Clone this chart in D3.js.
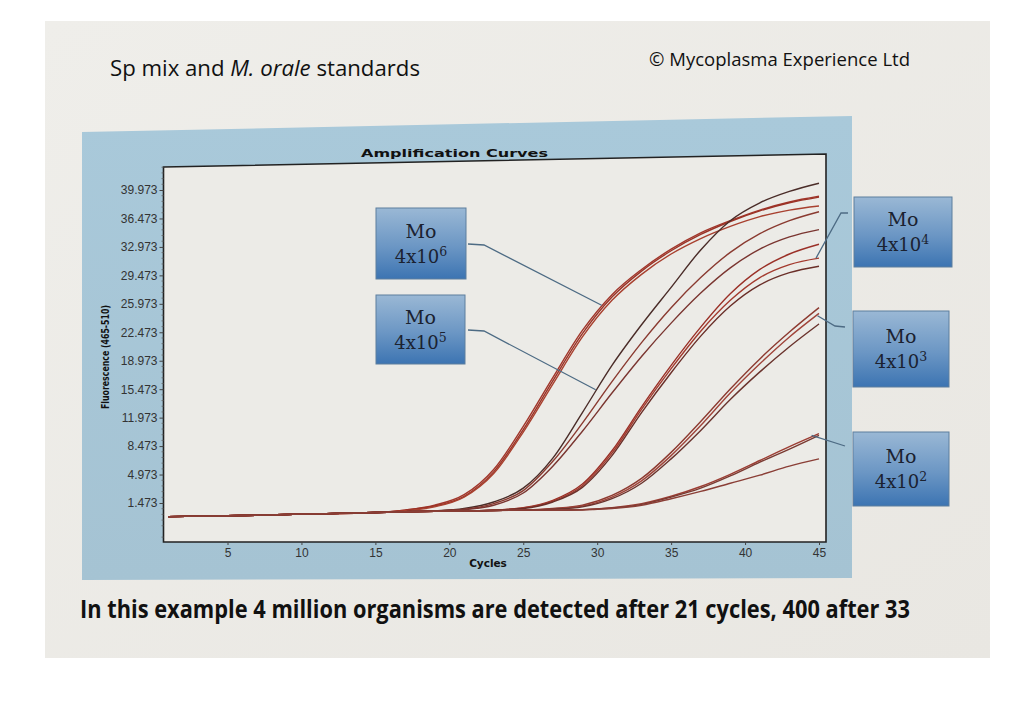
<!DOCTYPE html>
<html><head><meta charset="utf-8">
<script src="https://d3js.org/d3.v7.min.js"></script>
<style>html,body{margin:0;padding:0;background:#fff;}svg{display:block;}</style>
</head><body>
<svg id="chart" width="1024" height="709"></svg>
<script>
// ---- data ----
const cycles = [1,5,10,15,17,19,21,23,25,27,29,31,33,35,37,39,41,43,45];
const yTickLabels = [1.473,4.973,8.473,11.973,15.473,18.973,22.473,25.973,29.473,32.973,36.473,39.973];
const xTickLabels = [5,10,15,20,25,30,35,40,45];
// Mo 4x10^6
const a1 = [-0.2,-0.1,0.1,0.3,0.6,1.2,2.5,5.6,10.9,16.9,22.7,27.1,30.2,32.7,34.7,36.2,37.5,38.5,39.2];
const a2 = [-0.2,-0.1,0.1,0.3,0.6,1.1,2.3,5.3,10.5,16.5,22.3,26.8,30.0,32.5,34.5,36.1,37.4,38.4,39.1];
const a3 = [-0.2,-0.1,0.1,0.3,0.5,1.0,2.2,5.1,10.2,16.1,21.9,26.4,29.6,32.1,34.0,35.5,36.7,37.5,38.0];
// Mo 4x10^5
const b1 = [-0.2,-0.1,0.1,0.3,0.4,0.5,0.8,1.6,3.3,7.0,12.6,18.4,23.4,28.0,32.6,36.2,38.4,39.8,40.8];
const b2 = [-0.2,-0.1,0.1,0.3,0.4,0.5,0.7,1.4,3.0,6.6,11.3,16.4,21.2,25.5,29.2,32.3,34.6,36.2,37.3];
const b3 = [-0.2,-0.1,0.1,0.3,0.4,0.5,0.65,1.2,2.7,6.0,10.3,15.0,19.5,23.6,27.3,30.4,32.7,34.2,35.1];
// Mo 4x10^4
const c1 = [-0.2,-0.1,0.1,0.3,0.4,0.45,0.5,0.6,0.9,1.8,3.8,7.9,13.3,18.4,23.1,27.2,30.2,32.1,33.3];
const c2 = [-0.2,-0.1,0.1,0.3,0.4,0.45,0.5,0.6,0.85,1.7,3.6,7.6,13.0,18.0,22.6,26.4,29.2,30.8,31.6];
const c3 = [-0.2,-0.1,0.1,0.3,0.4,0.45,0.5,0.6,0.8,1.6,3.4,7.3,12.6,17.5,22.0,25.7,28.3,29.8,30.6];
// Mo 4x10^3
const d1 = [-0.2,-0.1,0.1,0.3,0.4,0.45,0.5,0.55,0.6,0.8,1.2,2.4,4.5,7.7,11.5,15.5,19.2,22.5,25.5];
const d2 = [-0.2,-0.1,0.1,0.3,0.4,0.45,0.5,0.55,0.6,0.75,1.1,2.2,4.2,7.3,11.0,15.0,18.6,21.9,24.8];
const d3s = [-0.2,-0.1,0.1,0.3,0.4,0.45,0.5,0.55,0.6,0.7,1.0,2.0,3.9,6.9,10.4,14.2,17.6,20.7,23.5];
// Mo 4x10^2
const e1 = [-0.2,-0.1,0.1,0.3,0.4,0.45,0.5,0.55,0.6,0.6,0.65,0.9,1.4,2.3,3.5,5.0,6.7,8.4,10.0];
const e2 = [-0.2,-0.1,0.1,0.3,0.4,0.45,0.5,0.55,0.6,0.6,0.65,0.85,1.3,2.2,3.3,4.8,6.5,8.1,9.8];
const e3 = [-0.2,-0.1,0.1,0.3,0.4,0.45,0.5,0.55,0.6,0.6,0.65,0.8,1.2,2.0,2.9,3.9,4.9,6.0,6.9];
const seriesList = [a1,a2,a3,b1,b2,b3,c1,c2,c3,d1,d2,d3s,e1,e2,e3];
const seriesColors = ["#a1362b","#9b3226","#a8402f","#4a2c28","#8a3a30","#7a3530","#9a3027","#a33a2e","#6a2e28","#8d3a30","#a0443a","#6a332d","#9c3d33","#7a3a32","#8a3e36"];
const boxExps = ["6","5","4","3","2"];
const boxCyc = [30.3, 29.9, 44.8, 44.9, 44.5];  // where each leader meets a curve
const boxVal = [25.8, 15.4, 31.6, 24.5, 9.8];

// ---- drawing ----
const svg = d3.select("#chart");
const defs = svg.append("defs");
const pg = defs.append("linearGradient").attr("id","page").attr("x1",0).attr("y1",0).attr("x2",1).attr("y2",1);
pg.append("stop").attr("offset",0).attr("stop-color","#efeeea");
pg.append("stop").attr("offset",1).attr("stop-color","#e9e7e2");
const bp = defs.append("linearGradient").attr("id","panel").attr("x1",0).attr("y1",0).attr("x2",0).attr("y2",1);
bp.append("stop").attr("offset",0).attr("stop-color","#a9c9da");
bp.append("stop").attr("offset",1).attr("stop-color","#a5c3d3");
const bx = defs.append("linearGradient").attr("id","box").attr("x1",0).attr("y1",0).attr("x2",0).attr("y2",1);
bx.append("stop").attr("offset",0).attr("stop-color","#9ab8d5");
bx.append("stop").attr("offset",0.55).attr("stop-color","#6b96c4");
bx.append("stop").attr("offset",1).attr("stop-color","#3c74b2");

// page
svg.append("rect").attr("x",45).attr("y",21).attr("width",945).attr("height",637).attr("fill","url(#page)");

// texts on page
const t1 = svg.append("text").attr("x",110).attr("y",76).attr("font-family","Open Sans, sans-serif")
  .attr("font-size",22).attr("fill","#111").attr("textLength",310).attr("lengthAdjust","spacingAndGlyphs");
t1.append("tspan").text("Sp mix and ");
t1.append("tspan").attr("font-style","italic").text("M. orale");
t1.append("tspan").text(" standards");
svg.append("text").attr("x",649).attr("y",66).attr("font-family","Open Sans, sans-serif").attr("font-size",18.5)
  .attr("fill","#111").attr("textLength",261).attr("lengthAdjust","spacingAndGlyphs").text("© Mycoplasma Experience  Ltd");
svg.append("text").attr("x",80).attr("y",618).attr("font-family","Open Sans, sans-serif").attr("font-weight","bold")
  .attr("font-size",24.5).attr("fill","#111").attr("textLength",830).attr("lengthAdjust","spacingAndGlyphs")
  .text("In this example 4 million organisms are detected after 21 cycles, 400 after 33");

// blue panel (slightly tilted in the photo)
svg.append("polygon").attr("points","82,132 852,116 852,578 82,580").attr("fill","url(#panel)");

// scales
const x = d3.scaleLinear().domain([5,45]).range([227.5,819]);
const y = d3.scaleLinear().domain([1.473,39.973]).range([503,190]);
const L = 163.5, R = 826, B = 542;

// plot area
svg.append("polygon").attr("points",`${L},167 ${R},154 ${R},${B} ${L},${B}`).attr("fill","#ecebe7")
  .attr("stroke","#222").attr("stroke-width",1.6);

svg.append("text").attr("x",361).attr("y",157).attr("font-family","DejaVu Sans, sans-serif").attr("font-weight","bold")
  .attr("font-size",10).attr("fill","#111").attr("textLength",187).attr("lengthAdjust","spacingAndGlyphs")
  .text("Amplification Curves");

// y axis
const yAxis = d3.axisLeft(y).tickValues(yTickLabels).tickFormat(d3.format(".3f")).tickSize(4).tickPadding(2);
const gy = svg.append("g").attr("transform",`translate(${L},0)`).call(yAxis);
gy.select(".domain").remove();
gy.selectAll("text").attr("font-family","Liberation Sans, Arial, sans-serif").attr("font-size",12).attr("fill","#333");
gy.selectAll("line").attr("stroke","#444");
const minor = d3.range(-2.727, 43, 0.7).filter(v => Math.abs(((v-1.473)/3.5) - Math.round((v-1.473)/3.5)) > 0.05);
svg.append("g").selectAll("line").data(minor).join("line")
  .attr("x1",L-2).attr("x2",L).attr("y1",d=>y(d)).attr("y2",d=>y(d)).attr("stroke","#666").attr("stroke-width",0.8);

// x axis
const xAxis = d3.axisBottom(x).tickValues(xTickLabels).tickSize(3).tickPadding(3);
const gx = svg.append("g").attr("transform",`translate(0,${B})`).call(xAxis);
gx.select(".domain").remove();
gx.selectAll("text").attr("font-family","Liberation Sans, Arial, sans-serif").attr("font-size",12).attr("fill","#333");
gx.selectAll("line").attr("stroke","#444");

svg.append("text").attr("x",488).attr("y",567).attr("text-anchor","middle").attr("font-family","DejaVu Sans, sans-serif")
  .attr("font-weight","bold").attr("font-size",10.5).attr("fill","#111").text("Cycles");
svg.append("text").attr("transform","translate(109,357) rotate(-90)").attr("text-anchor","middle")
  .attr("font-family","DejaVu Sans, sans-serif").attr("font-weight","bold").attr("font-size",11).attr("fill","#111")
  .attr("textLength",104).attr("lengthAdjust","spacingAndGlyphs").text("Fluorescence (465-510)");

// curves
const line = d3.line().x((d,i)=>x(cycles[i])).y(d=>y(d)).curve(d3.curveMonotoneX);
svg.append("g").selectAll("path").data(seriesList).join("path")
  .attr("d",d=>line(d)).attr("fill","none").attr("stroke",(d,i)=>seriesColors[i]).attr("stroke-width",1.4);

// label boxes + leaders
const boxes = [
  {x:376,y:208,w:90,h:71},
  {x:376,y:295,w:89,h:69},
  {x:854,y:197,w:98,h:70},
  {x:853,y:311,w:96,h:76},
  {x:853,y:432,w:96,h:74}
];
const leaders = [
  (b,px,py)=>`M${b.x+b.w+2},${b.y+36} L${b.x+b.w+18},${b.y+37} L${px},${py}`,
  (b,px,py)=>`M${b.x+b.w+3},${b.y+35} L${b.x+b.w+19},${b.y+36} L${px},${py}`,
  (b,px,py)=>`M${b.x-6},${b.y+16} L${b.x-13},${b.y+16} L${px},${py}`,
  (b,px,py)=>`M${b.x-8},${b.y+16} L${b.x-18},${b.y+15} L${px},${py}`,
  (b,px,py)=>`M${b.x-8},${b.y+14} L${px},${py}`
];
boxes.forEach((b,i)=>{
  svg.append("path").attr("d",leaders[i](b,x(boxCyc[i]),y(boxVal[i]))).attr("fill","none")
    .attr("stroke","#4d6b84").attr("stroke-width",1.3);
  svg.append("rect").attr("x",b.x).attr("y",b.y).attr("width",b.w).attr("height",b.h)
    .attr("fill","url(#box)").attr("stroke","#5d7f9e").attr("stroke-width",1);
  const cx = b.x + b.w/2, cy = b.y + b.h/2;
  svg.append("text").attr("x",cx).attr("y",cy-6).attr("text-anchor","middle").attr("font-family","DejaVu Serif, serif")
    .attr("font-size",19).attr("fill","#1b2230").text("Mo");
  const t = svg.append("text").attr("x",cx).attr("y",cy+19).attr("text-anchor","middle").attr("font-family","DejaVu Serif, serif")
    .attr("font-size",18).attr("fill","#1b2230");
  t.append("tspan").text("4x10");
  t.append("tspan").attr("font-size",12.5).attr("dy",-7).text(boxExps[i]);
});
</script>
</body></html>
